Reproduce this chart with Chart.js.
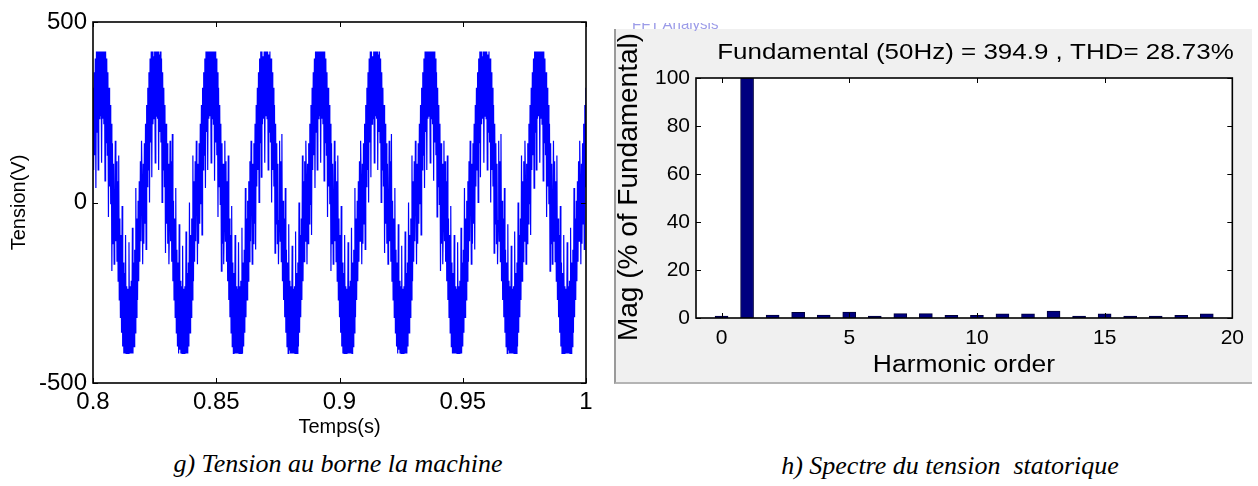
<!DOCTYPE html>
<html>
<head>
<meta charset="utf-8">
<script src="https://cdn.jsdelivr.net/npm/chart.js@4.4.1/dist/chart.umd.min.js"></script>
<style>
  body { margin: 0; background: #fff; width: 1258px; height: 486px; position: relative; overflow: hidden; }
  #tension { position: absolute; left: 0; top: 0; }
  #panneau { position: absolute; left: 614px; top: 29px; width: 636px; height: 353px; background: #f0f0f0;
             border-left: 2px solid #9a9a9a; border-bottom: 2px solid #b4b4b4; }
  #spectre { position: absolute; left: 0; top: 0; }
  #fenetre { position: absolute; left: 632px; top: 23px; width: 120px; height: 8px; overflow: hidden; z-index: 2; }
  #fenetre span { display: block; margin-top: -8px; font: 15px 'Liberation Sans', Arial, sans-serif; color: #9c9ce8; }
  .legende { position: absolute; font: italic 26px 'Liberation Serif', 'Times New Roman', serif; text-align: center;
             line-height: 30px; color: #000; white-space: pre; }
</style>
</head>
<body>
<canvas id="tension" width="610" height="440"></canvas>
<div id="panneau"><canvas id="spectre" width="636" height="353"></canvas></div>
<div id="fenetre"><span>FFT Analysis</span></div>
<div class="legende" style="left:88px; top:449px; width:500px;">g) Tension au borne la machine</div>
<div class="legende" style="left:700px; top:451px; width:500px;">h) Spectre du tension  statorique</div>

<script>
// Tension aux bornes : deux periodes type (96 echantillons chacune)
const cycleA = [
  50, -171, 107, -114, 164, -59, 218, -5, 270, -90, 318, 90, 361, 131, 399, 40,
  418, 195, 418, 90, 418, 232, 418, 239, 418, 110, 418, 232, 418, 217, 418, 60,
  418, 166, 399, 131, 361, -40, 318, 44, 270, -5, 218, -190, 164, -114, 107, -171,
  -50, 171, -107, 114, -164, 59, -218, 130, -270, -44, -318, -90, -361, -10, -399, -166,
  -418, -195, -418, -90, -418, -232, -418, -239, -418, -110, -418, -232, -418, -217, -418, -70,
  -418, -166, -399, -131, -361, 40, -318, -44, -270, 5, -218, 59, -164, 114, -107, 171
];
const cycleB = [
  50, -171, 107, -114, 164, -59, 218, -130, 270, 44, 318, 90, 361, 0, 399, 166,
  418, 70, 418, 217, 405, 232, 418, 110, 418, 239, 418, 232, 418, 90, 410, 195,
  418, 166, 399, 0, 361, 90, 318, 44, 270, -140, 218, -59, 164, -114, 107, -171,
  -50, 171, -107, 114, -164, 190, -218, 5, -270, -44, -318, 40, -361, -131, -399, -166,
  -418, -60, -408, -217, -418, -232, -418, -120, -418, -239, -418, -232, -418, -80, -418, -195,
  -418, -166, -399, 0, -361, -90, -318, -44, -270, 130, -218, 59, -164, 114, -107, 171
];
const debutCycle = 0.7977;   // passage par zero montant (s)
const periode = 0.02222;     // s
const nbCycles = 10;

// Spectre : ordre harmonique et amplitude en % du fondamental
const harmoniques = [0, 1, 2, 3, 4, 5, 6, 7, 8, 9, 10, 11, 12, 13, 14, 15, 16, 17, 18, 19];
const amplitudes = [0.8, 100, 1.25, 2.4, 1.25, 2.5, 0.8, 1.8, 1.8, 1.1, 1.1, 1.7, 1.7, 2.9, 0.8, 1.7, 0.8, 0.8, 1.1, 1.7];

const titreSpectre = 'Fundamental (50Hz) = 394.9 , THD= 28.73%';
const ticksTemps = [0.8, 0.85, 0.9, 0.95, 1];
const ticksOrdre = [0, 5, 10, 15, 20];

Chart.defaults.font.family = "'Liberation Sans', Arial, sans-serif";
Chart.defaults.color = '#000';

// series temporelle
const points = [];
for (let c = 0; c < nbCycles; c++) {
    const cycle = c % 2 ? cycleB : cycleA;
    for (let k = 0; k < cycle.length; k++) {
        points.push({ x: debutCycle + c * periode + k * periode / cycle.length, y: cycle[k] });
    }
}

// fond blanc, cadre et graduations vers l'interieur (style MATLAB)
const cadreAxes = {
    id: 'cadreAxes',
    beforeDraw(chart) {
        const { ctx, chartArea: a } = chart;
        ctx.save();
        ctx.fillStyle = '#fff';
        ctx.fillRect(a.left, a.top, a.right - a.left, a.bottom - a.top);
        ctx.restore();
    },
    afterDatasetsDraw(chart) {
        const { ctx, chartArea: a, scales } = chart;
        const lg = 5;
        ctx.save();
        ctx.strokeStyle = '#000';
        ctx.lineWidth = 1;
        ctx.beginPath();
        scales.x.ticks.forEach(t => {
            const px = Math.round(scales.x.getPixelForValue(t.value)) + 0.5;
            ctx.moveTo(px, a.bottom); ctx.lineTo(px, a.bottom - lg);
            ctx.moveTo(px, a.top); ctx.lineTo(px, a.top + lg);
        });
        scales.y.ticks.forEach(t => {
            const py = Math.round(scales.y.getPixelForValue(t.value)) + 0.5;
            ctx.moveTo(a.left, py); ctx.lineTo(a.left + lg, py);
            ctx.moveTo(a.right, py); ctx.lineTo(a.right - lg, py);
        });
        ctx.stroke();
        ctx.lineWidth = 1.6;
        ctx.strokeRect(a.left, a.top, a.right - a.left, a.bottom - a.top);
        ctx.restore();
    }
};

// titres du spectre (police etiree comme dans la fenetre FFT)
const textesSpectre = {
    id: 'textesSpectre',
    afterDraw(chart) {
        const ctx = chart.ctx;
        ctx.save();
        ctx.fillStyle = '#000';
        ctx.textAlign = 'center';
        ctx.textBaseline = 'alphabetic';

        ctx.font = "22px 'Liberation Sans', Arial, sans-serif";
        ctx.save();
        ctx.translate(359.5, 30);
        ctx.scale(1.18, 1);
        ctx.fillText(titreSpectre, 0, 0);
        ctx.restore();

        ctx.font = "23px 'Liberation Sans', Arial, sans-serif";
        ctx.save();
        ctx.translate(348, 343);
        ctx.scale(1.15, 1);
        ctx.fillText('Harmonic order', 0, 0);
        ctx.restore();

        ctx.font = "28px 'Liberation Sans', Arial, sans-serif";
        ctx.save();
        ctx.translate(21, 158);
        ctx.rotate(-Math.PI / 2);
        ctx.fillText('Mag (% of Fundamental)', 0, 0);
        ctx.restore();

        ctx.restore();
    }
};

new Chart(document.getElementById('tension'), {
    type: 'line',
    data: {
        datasets: [{
            data: points,
            borderColor: '#0000ff',
            borderWidth: 1.2,
            pointRadius: 0,
            tension: 0
        }]
    },
    options: {
        responsive: false,
        animation: false,
        events: [],
        layout: { padding: { top: 22, right: 24, left: 0, bottom: 0 } },
        plugins: { legend: { display: false }, tooltip: { enabled: false } },
        scales: {
            x: {
                type: 'linear',
                min: 0.8,
                max: 1,
                afterBuildTicks: scale => { scale.ticks = ticksTemps.map(v => ({ value: v })); },
                afterFit: scale => { scale.height = 57; },
                grid: { display: false, drawTicks: false },
                border: { display: false },
                ticks: {
                    font: { size: 24 },
                    padding: 5,
                    maxRotation: 0,
                    callback: v => String(Math.round(v * 100) / 100)
                },
                title: { display: true, text: 'Temps(s)', font: { size: 20 }, padding: { top: 0, bottom: 1 } }
            },
            y: {
                min: -500,
                max: 500,
                afterFit: scale => { scale.width = 93; },
                grid: { display: false, drawTicks: false },
                border: { display: false },
                ticks: { stepSize: 500, font: { size: 24 }, padding: 6 },
                title: { display: true, text: 'Tension(V)', font: { size: 20 }, padding: { top: 7, bottom: 0 } }
            }
        }
    },
    plugins: [cadreAxes]
});

new Chart(document.getElementById('spectre'), {
    type: 'bar',
    data: {
        datasets: [{
            data: harmoniques.map((h, i) => ({ x: h, y: amplitudes[i] })),
            backgroundColor: '#00007f',
            borderColor: '#00003a',
            borderWidth: 1,
            barThickness: 13
        }]
    },
    options: {
        responsive: false,
        animation: false,
        events: [],
        layout: { padding: { top: 49, right: 18, left: 0, bottom: 0 } },
        plugins: { legend: { display: false }, tooltip: { enabled: false } },
        scales: {
            x: {
                type: 'linear',
                min: -1,
                max: 20,
                offset: false,
                afterBuildTicks: scale => { scale.ticks = ticksOrdre.map(v => ({ value: v })); },
                afterFit: scale => { scale.height = 64; },
                grid: { display: false, drawTicks: false },
                border: { display: false },
                ticks: { font: { size: 21 }, padding: 8, maxRotation: 0 }
            },
            y: {
                min: 0,
                max: 100,
                afterFit: scale => { scale.width = 80; },
                grid: { display: false, drawTicks: false },
                border: { display: false },
                ticks: { stepSize: 20, font: { size: 21 }, padding: 6 }
            }
        }
    },
    plugins: [cadreAxes, textesSpectre]
});
</script>
</body>
</html>
